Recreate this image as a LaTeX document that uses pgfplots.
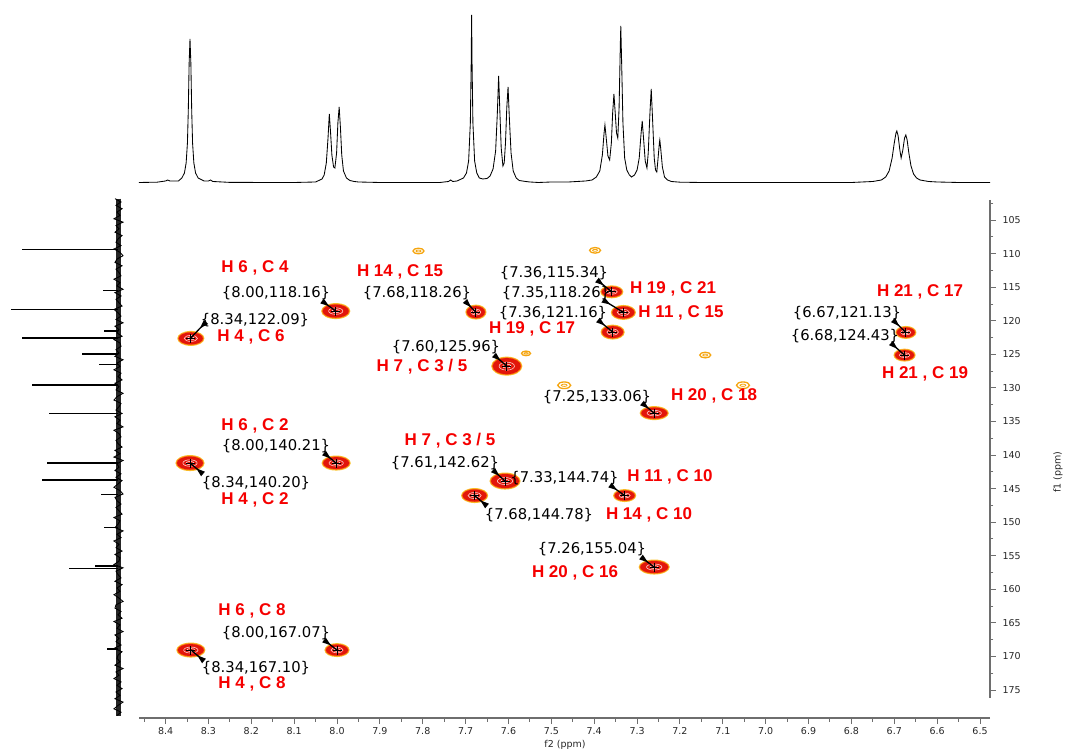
\documentclass[border=0pt]{standalone}
\usepackage{fontspec}
\setmainfont{DejaVu Sans}
\newfontfamily\arial{Liberation Sans}
\usepackage{pgfplots}
\usepackage{pgfplotstable}
\pgfplotsset{compat=1.18}
\usetikzlibrary{arrows.meta}
\definecolor{cOut}{RGB}{250,195,45}
\definecolor{cMid}{RGB}{248,105,20}
\definecolor{cRed}{RGB}{226,22,10}
\definecolor{cLab}{RGB}{245,0,0}
\definecolor{cWeak}{RGB}{245,165,15}
\definecolor{axg}{RGB}{110,110,110}

\pgfdeclareplotmark{ellA}{\pgfpathellipse{\pgfpointorigin}{\pgfpoint{\rx pt+1.6pt}{0pt}}{\pgfpoint{0pt}{\ry pt+1.5pt}}\pgfusepathqfill}
\pgfdeclareplotmark{ellB}{\pgfpathellipse{\pgfpointorigin}{\pgfpoint{\rx pt+0.8pt}{0pt}}{\pgfpoint{0pt}{\ry pt+0.7pt}}\pgfusepathqfill}
\pgfdeclareplotmark{ellC}{\pgfpathellipse{\pgfpointorigin}{\pgfpoint{\rx pt}{0pt}}{\pgfpoint{0pt}{\ry pt}}\pgfusepathqfill}
\pgfdeclareplotmark{ellD}{\pgfpathellipse{\pgfpointorigin}{\pgfpoint{0.55*\rx pt}{0pt}}{\pgfpoint{0pt}{0.5*\ry pt}}\pgfusepathqstroke}
\pgfdeclareplotmark{ellE}{\pgfpathellipse{\pgfpointorigin}{\pgfpoint{0.3*\rx pt}{0pt}}{\pgfpoint{0pt}{0.25*\ry pt}}\pgfusepathqstroke}
\pgfdeclareplotmark{ellW}{\pgfpathellipse{\pgfpointorigin}{\pgfpoint{\rx pt}{0pt}}{\pgfpoint{0pt}{\ry pt}}\pgfusepathqstroke}
\pgfdeclareplotmark{ellWi}{\pgfpathellipse{\pgfpointorigin}{\pgfpoint{0.45*\rx pt}{0pt}}{\pgfpoint{0pt}{0.35*\ry pt}}\pgfusepathqstroke}

\pgfplotstableread{
x y rx ry
8.341 122.62 12 6
8.003 118.55 13 6.5
7.676 118.70 9 6
7.604 126.75 14 8
7.359 115.68 10 5
7.332 118.75 11 6
7.357 121.68 10.5 6
6.673 121.73 9 5
6.676 125.11 9.5 5
7.260 133.75 13 5.5
8.002 141.19 13 6
8.343 141.19 13 6.5
7.608 143.87 14 7
7.329 146.03 10 5
7.679 146.03 12 6
7.260 156.68 14 6
8.000 169.05 11 5.5
8.341 169.05 13 6
}\strong

\pgfplotstableread{
x y rx ry
7.810 109.6 5.5 2.8
7.398 109.5 5.5 2.8
7.559 124.85 4.5 2.3
7.141 125.1 5.5 2.8
7.470 129.6 6.5 3.3
7.053 129.6 6.5 3.3
}\weak

\pgfplotstableread{
x y u v
322 301 13.7 10
206 322 -15.3 16
465 301 10.7 11
597 280 14.7 11.7
603 300 20.3 12.3
598 320 14.7 12
494 355 12.7 11
893 320 12.7 12.3
891 343 13.3 12
642 403 12 10
324 453 12 10
203 474 -13 -11
493 470 12 11
610 485 14.5 10.5
487 506 -12.5 -10.5
641 557 13 10
324 640 13 10
204 661 -13 -11
}\arrows

\begin{document}
\begin{tikzpicture}
\useasboundingbox (0,0) rectangle (1068pt,751pt);

% ---------- top 1H projection ----------
\begin{axis}[at={(139pt,561pt)}, anchor=south west, scale only axis,
  width=851pt, height=190pt, x dir=reverse,
  xmin=6.4767, xmax=8.462, ymin=-7, ymax=183, hide axis, clip=false]
\addplot[black, line width=0.85pt] coordinates {
(8.462,0.5)(8.42,0.8)(8.40,2)(8.395,3)(8.39,2)(8.37,2)(8.362,5)(8.356,10)(8.352,20)(8.349,40)(8.347,72)(8.345,120)(8.343,144)(8.341,120)(8.339,72)(8.337,40)(8.334,20)(8.330,10)(8.324,5)(8.31,2)(8.30,2)(8.295,3)(8.29,1.5)(8.25,0.6)(8.10,0.5)
(8.05,1)(8.04,3)(8.035,4)(8.03,8)(8.025,20)(8.021,45)(8.018,69)(8.015,50)(8.012,28)(8.008,16)(8.005,15)(8.001,30)(7.998,60)(7.995,76)(7.992,55)(7.989,28)(7.985,12)(7.978,5)(7.97,2.5)(7.96,1.5)(7.95,1)(7.90,0.5)
(7.76,0.5)(7.74,1.5)(7.735,3)(7.73,1.5)(7.72,2)(7.705,5)(7.698,10)(7.693,22)(7.689,60)(7.687,120)(7.686,168)(7.685,120)(7.683,60)(7.679,22)(7.674,10)(7.668,5)(7.66,4)(7.65,4.5)
(7.643,7)(7.636,14)(7.63,32)(7.626,70)(7.623,107)(7.62,70)(7.617,35)(7.613,17)(7.610,20)(7.607,40)(7.604,75)(7.601,96)(7.598,65)(7.594,30)(7.589,12)(7.582,5)(7.575,2.5)(7.56,1.5)(7.55,1)(7.53,0.5)
(7.50,1)(7.46,1)(7.44,1.5)(7.42,2)(7.405,3)(7.395,6)(7.387,12)(7.381,28)(7.377,50)(7.375,58)(7.372,45)(7.368,27)(7.364,23)(7.360,40)(7.357,70)(7.354,89)(7.351,70)(7.348,50)(7.345,45)(7.342,75)(7.339,140)(7.338,157)(7.336,120)(7.333,60)(7.329,25)(7.324,13)(7.318,8)(7.313,6)
(7.306,8)(7.300,13)(7.295,25)(7.291,48)(7.288,62)(7.285,45)(7.281,22)(7.277,15)(7.274,30)(7.270,70)(7.267,94)(7.264,65)(7.260,25)(7.257,13)(7.254,11)(7.251,25)(7.248,40)(7.247,43)(7.245,35)(7.241,16)(7.236,6)(7.229,3)(7.22,1.5)(7.20,0.8)(7.15,0.5)
(6.80,0.5)(6.75,1.5)(6.73,3)(6.72,6)(6.712,12)(6.705,25)(6.70,40)(6.696,50)(6.694,52)(6.691,47)(6.687,33)(6.684,25)(6.680,33)(6.676,45)(6.673,48)(6.670,43)(6.666,30)(6.661,17)(6.655,9)(6.648,5)(6.64,3)(6.62,1.5)(6.60,1)(6.55,0.5)(6.4767,0.5)
};
\end{axis}

% ---------- left 13C projection ----------
\begin{axis}[at={(0pt,33pt)}, anchor=south west, scale only axis,
  width=139pt, height=518pt, x dir=reverse, y dir=reverse,
  xmin=-21, xmax=118, ymin=102.0, ymax=179.17, hide axis, clip=false]
\addplot[black!85, line width=5pt] coordinates {(-0.5,101.8)(-0.5,178.8)};
\addplot[black, line width=0.9pt] coordinates {
(3,101.8)(-3,102.3)(2,102.8)(-4,103.3)(1,103.8)(-2,104.3)(4,104.8)(-5,105.3)(2,105.8)(-1,106.3)
(3,106.8)(-4,107.3)(0,107.8)(2,108.3)(-3,108.8)(4,109.3)(-2,109.8)(-5,110.3)(1,110.8)(3,111.3)
(-4,111.8)(2,112.3)(-1,112.8)(-3,113.3)(4,113.8)(-2,114.3)(1,114.8)(-5,115.3)(3,115.8)(-3,116.3)
(2,116.8)(-1,117.3)(-4,117.8)(4,118.3)(0,118.8)(-3,119.3)(2,119.8)(-5,120.3)(3,120.8)(-1,121.3)
(1,121.8)(-4,122.3)(4,122.8)(-2,123.3)(-3,123.8)(2,124.3)(-1,124.8)(3,125.3)(-5,125.8)(1,126.3)
(-2,126.8)(4,127.3)(-3,127.8)(0,128.3)(-4,128.8)(3,129.3)(-1,129.8)(2,130.3)(-5,130.8)(1,131.3)
(4,131.8)(-3,132.3)(-1,132.8)(2,133.3)(-4,133.8)(3,134.3)(-2,134.8)(1,135.3)(-5,135.8)(4,136.3)
(-1,136.8)(-3,137.3)(2,137.8)(0,138.3)(-4,138.8)(3,139.3)(-2,139.8)(4,140.3)(-5,140.8)(1,141.3)
(-1,141.8)(3,142.3)(-3,142.8)(2,143.3)(-4,143.8)(0,144.3)(4,144.8)(-2,145.3)(-5,145.8)(3,146.3)
(1,146.8)(-3,147.3)(2,147.8)(-1,148.3)(-4,148.8)(4,149.3)(-2,149.8)(0,150.3)(3,150.8)(-5,151.3)
(1,151.8)(-3,152.3)(4,152.8)(-1,153.3)(2,153.8)(-4,154.3)(3,154.8)(-2,155.3)(-1,155.8)(4,156.3)
(-5,156.8)(2,157.3)(0,157.8)(-3,158.3)(3,158.8)(-4,159.3)(1,159.8)(-2,160.3)(4,160.8)(-1,161.3)
(-5,161.8)(2,162.3)(3,162.8)(-3,163.3)(0,163.8)(-4,164.3)(4,164.8)(-2,165.3)(1,165.8)(-5,166.3)
(3,166.8)(-1,167.3)(2,167.8)(-3,168.3)(4,168.8)(-4,169.3)(0,169.8)(1,170.3)(-2,170.8)(3,171.3)
(-5,171.8)(2,172.3)(-1,172.8)(4,173.3)(-3,173.8)(1,174.3)(-4,174.8)(2,175.3)(-2,175.8)(3,176.3)
(-5,176.8)(0,177.3)(4,177.8)(-3,178.3)(1,178.8)
};
\addplot[xcomb, black, line width=1.6pt] coordinates {
(96,109.37)(15,115.5)(107,118.3)(14,121.5)(96,122.6)(36,124.9)(19,126.5)(86,129.6)(69,133.8)
(71,141.15)(76,143.7)(17,145.9)(14,150.8)(23,156.5)(49,156.9)(11,168.9)
};
\end{axis}

% ---------- main 2D HMBC ----------
\begin{axis}[at={(139pt,33pt)}, anchor=south west, scale only axis,
  width=851pt, height=518pt, x dir=reverse, y dir=reverse,
  xmin=6.4767, xmax=8.462, ymin=102.0, ymax=179.17,
  axis x line*=bottom, axis y line*=right,
  axis line style={axg, line width=1.2pt},
  y axis line style={draw=none},
  tick align=outside, major tick length=6pt, minor tick length=3.5pt,
  tick style={axg, line width=1pt},
  xtick={6.5,6.6,6.7,6.8,6.9,7.0,7.1,7.2,7.3,7.4,7.5,7.6,7.7,7.8,7.9,8.0,8.1,8.2,8.3,8.4},
  minor xtick={6.55,6.65,6.75,6.85,6.95,7.05,7.15,7.25,7.35,7.45,7.55,7.65,7.75,7.85,7.95,8.05,8.15,8.25,8.35,8.45},
  ytick={105,110,...,175},
  minor ytick={102.5,107.5,...,172.5},
  xticklabel style={/pgf/number format/.cd, fixed, fixed zerofill, precision=1},
  yticklabel style={xshift=3pt},
  /pgf/number format/assume math mode=true,
  ticklabel style={font=\fontsize{9.5}{11}\selectfont, text=black!85},
  clip=false]
\addplot[axg, line width=1.2pt] coordinates {(6.4767,102.0)(6.4767,176.2)};
% weak contours
\addplot[scatter, only marks, mark=ellW, visualization depends on={\thisrow{rx}\as\rx},
  visualization depends on={\thisrow{ry}\as\ry},
  scatter/use mapped color={draw=cWeak}, line width=1.3pt] table[x=x,y=y] {\weak};
\addplot[scatter, only marks, mark=ellWi, visualization depends on={\thisrow{rx}\as\rx},
  visualization depends on={\thisrow{ry}\as\ry},
  scatter/use mapped color={draw=cWeak}, line width=0.8pt] table[x=x,y=y] {\weak};
% strong contours
\addplot[scatter, only marks, mark=ellA, visualization depends on={\thisrow{rx}\as\rx},
  visualization depends on={\thisrow{ry}\as\ry},
  scatter/use mapped color={fill=cOut}] table[x=x,y=y] {\strong};
\addplot[scatter, only marks, mark=ellB, visualization depends on={\thisrow{rx}\as\rx},
  visualization depends on={\thisrow{ry}\as\ry},
  scatter/use mapped color={fill=cMid}] table[x=x,y=y] {\strong};
\addplot[scatter, only marks, mark=ellC, visualization depends on={\thisrow{rx}\as\rx},
  visualization depends on={\thisrow{ry}\as\ry},
  scatter/use mapped color={fill=cRed}] table[x=x,y=y] {\strong};
\addplot[scatter, only marks, mark=ellD, visualization depends on={\thisrow{rx}\as\rx},
  visualization depends on={\thisrow{ry}\as\ry},
  scatter/use mapped color={draw=white!80!red}, line width=0.6pt] table[x=x,y=y] {\strong};
\addplot[scatter, only marks, mark=ellE, visualization depends on={\thisrow{rx}\as\rx},
  visualization depends on={\thisrow{ry}\as\ry},
  scatter/use mapped color={draw=white}, line width=0.5pt] table[x=x,y=y] {\strong};
\addplot[only marks, mark=+, mark size=4.5pt, black, line width=1pt] table[x=x,y=y] {\strong};
\end{axis}

% ---------- annotations (pixel frame) ----------
\begin{axis}[at={(0pt,0pt)}, anchor=south west, scale only axis,
  width=1068pt, height=751pt, xmin=0, xmax=1068, ymin=0, ymax=751,
  y dir=reverse, hide axis, clip=false]
\addplot[black, line width=1.3pt, {Triangle[reversed,length=9pt,width=5.5pt]}-, quiver={u=\thisrow{u}, v=\thisrow{v}}] table[x=x,y=y] {\arrows};
\begin{scope}[every node/.style={font=\fontsize{14.8}{16}\selectfont, inner sep=0pt}]
\node at (axis cs:276,293) {\{8.00,118.16\}};
\node at (axis cs:255,320) {\{8.34,122.09\}};
\node at (axis cs:417,293) {\{7.68,118.26\}};
\node at (axis cs:554,273) {\{7.36,115.34\}};
\node at (axis cs:556,293) {\{7.35,118.26\}};
\node at (axis cs:553,313) {\{7.36,121.16\}};
\node at (axis cs:446,347) {\{7.60,125.96\}};
\node at (axis cs:847,313) {\{6.67,121.13\}};
\node at (axis cs:845,336) {\{6.68,124.43\}};
\node at (axis cs:597,397) {\{7.25,133.06\}};
\node at (axis cs:276,446) {\{8.00,140.21\}};
\node at (axis cs:256,483) {\{8.34,140.20\}};
\node at (axis cs:445,463) {\{7.61,142.62\}};
\node at (axis cs:564.5,478) {\{7.33,144.74\}};
\node at (axis cs:539,515) {\{7.68,144.78\}};
\node at (axis cs:592,549) {\{7.26,155.04\}};
\node at (axis cs:276,633) {\{8.00,167.07\}};
\node at (axis cs:256,668) {\{8.34,167.10\}};
\end{scope}
\begin{scope}[every node/.style={font=\arial\bfseries\fontsize{17}{19}\selectfont, text=cLab, inner sep=0pt}]
\node at (axis cs:255,268) {H 6 , C 4};
\node at (axis cs:251,337) {H 4 , C 6};
\node at (axis cs:400,272) {H 14 , C 15};
\node at (axis cs:673,289) {H 19 , C 21};
\node at (axis cs:681,313) {H 11 , C 15};
\node at (axis cs:532,329) {H 19 , C 17};
\node at (axis cs:422,367) {H 7 , C 3 / 5};
\node at (axis cs:920,292) {H 21 , C 17};
\node at (axis cs:925,374) {H 21 , C 19};
\node at (axis cs:714,396) {H 20 , C 18};
\node at (axis cs:255,426) {H 6 , C 2};
\node at (axis cs:255,500) {H 4 , C 2};
\node at (axis cs:450,441) {H 7 , C 3 / 5};
\node at (axis cs:670,477) {H 11 , C 10};
\node at (axis cs:649,515) {H 14 , C 10};
\node at (axis cs:575,573) {H 20 , C 16};
\node at (axis cs:252,611) {H 6 , C 8};
\node at (axis cs:252,684) {H 4 , C 8};
\end{scope}
\node[font=\fontsize{9.5}{11}\selectfont, text=black!85, inner sep=0pt] at (axis cs:565,745) {f2 (ppm)};
\node[font=\fontsize{9.5}{11}\selectfont, text=black!85, inner sep=0pt, rotate=90] at (axis cs:1058,472) {f1 (ppm)};
\end{axis}
\end{tikzpicture}
\end{document}
